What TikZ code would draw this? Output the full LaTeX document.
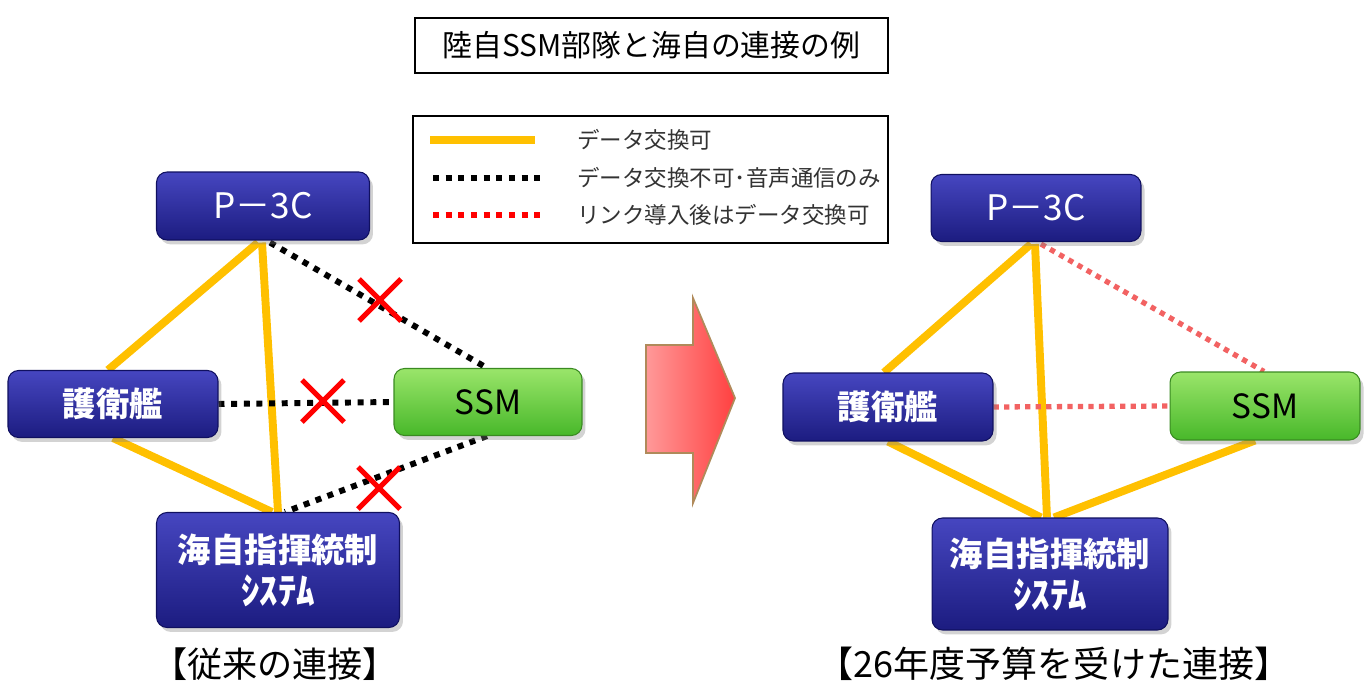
\documentclass[tikz,border=0pt]{standalone}
\usepackage{fontspec}
\newfontfamily\jp{Noto Sans CJK JP}
\usetikzlibrary{shadows,calc,backgrounds}
\definecolor{navytop}{HTML}{4646C0}
\definecolor{navybot}{HTML}{1C1C80}
\definecolor{navyedge}{HTML}{101060}
\definecolor{greentop}{HTML}{9AE56A}
\definecolor{greenbot}{HTML}{48B82A}
\definecolor{greenedge}{HTML}{3A8A22}
\definecolor{linkyellow}{HTML}{FFC000}
\definecolor{linkred}{HTML}{F26262}
\definecolor{legred}{HTML}{FF0000}
\definecolor{arrowedge}{HTML}{B08A5A}
\tikzset{
  navybox/.style={rectangle, rounded corners=6pt, top color=navytop, bottom color=navybot,
    draw=navyedge, line width=0.6pt, text=white, align=center,
    font=\jp\fontsize{19}{24}\selectfont\bfseries,
    drop shadow={opacity=0.35, shadow xshift=2pt, shadow yshift=-2.5pt}},
  greenbox/.style={rectangle, rounded corners=6pt, top color=greentop, bottom color=greenbot,
    draw=greenedge, line width=0.6pt, text=black, align=center,
    font=\jp\fontsize{19}{24}\selectfont,
    drop shadow={opacity=0.35, shadow xshift=2pt, shadow yshift=-2.5pt}},
  okline/.style={draw=linkyellow, line width=4.5pt},
  voiceline/.style={draw=black, line width=3.4pt, dash pattern=on 3.4pt off 3.8pt},
  linkline/.style={draw=linkred, line width=3pt, dash pattern=on 3pt off 3pt},
  legline/.style={draw=legred, line width=3.4pt, dash pattern=on 3.4pt off 3.8pt},
  xmark/.style={draw=red, line width=3pt},
  framebox/.style={draw=black, line width=1.3pt, fill=white},
  legtext/.style={anchor=west, inner sep=0pt, font=\jp\fontsize{12.8}{14}\selectfont, text=black!80},
  caption/.style={font=\jp\fontsize{20}{22}\selectfont}
}
\newcommand{\kata}[1]{{\fontsize{21}{24}\selectfont #1}}
\begin{document}
\begin{tikzpicture}[x=0.02cm,y=-0.02cm]
\useasboundingbox (0,0) rectangle (1367,693);

% title
\node[framebox, minimum width=9.46cm, minimum height=1.1cm, font=\jp\fontsize{17}{19}\selectfont] (title) at (651.5,45.5) {陸自SSM部隊と海自の連接の例};

% legend
\node[framebox, minimum width=9.5cm, minimum height=2.54cm] (legend) at (650.5,179.5) {};
\coordinate (ly1) at (430,140); \coordinate (ly2) at (535,140);
\coordinate (lb1) at (433,178); \coordinate (lb2) at (541,178);
\coordinate (lr1) at (433,215); \coordinate (lr2) at (541,215);
\draw[okline] (ly1) -- (ly2);
\draw[voiceline] (lb1) -- (lb2);
\draw[legline] (lr1) -- (lr2);
\node[legtext] (t1) at (577,140) {データ交換可};
\node[legtext] (t2) at (577,178) {データ交換不可･音声通信のみ};
\node[legtext] (t3) at (577,215) {リンク導入後はデータ交換可};

% left diagram nodes
\node[navybox, minimum width=4.26cm, minimum height=1.36cm, font=\jp\fontsize{20}{24}\selectfont] (lp3c) at (263,206) {P－3C};
\node[navybox, minimum width=4.2cm, minimum height=1.34cm] (lgoe) at (113,404) {護衛艦};
\node[greenbox, minimum width=3.76cm, minimum height=1.34cm] (lssm) at (488,402) {SSM};
\node[navybox, minimum width=4.86cm, minimum height=2.3cm] (lsys) at (278,570) {海自指揮統制\\\kata{ｼｽﾃﾑ}};
\node[caption] (lcap) at (275,664) {【従来の連接】};

\begin{scope}[on background layer]
\draw[okline] ($(lp3c.south)+(-5,2)$) -- ($(lgoe.north)+(-5,0)$);
\draw[okline] ($(lp3c.south)+(-1,2)$) -- ($(lsys.north)+(0,0)$);
\draw[okline] ($(lgoe.south)+(0,0)$) -- ($(lsys.north)+(-6,0)$);
\draw[voiceline] ($(lp3c.south)+(7,2)$) -- ($(lssm.north)+(-1,0)$);
\draw[voiceline] (lgoe.east) -- (lssm.west);
\draw[voiceline] ($(lssm.south)+(-1,0)$) -- ($(lsys.north)+(7,0)$);
\end{scope}

% red crosses
\coordinate (x1) at (380,300);
\coordinate (x2) at (323,401);
\coordinate (x3) at (379,488);
\foreach \c in {x1,x2,x3}{
  \draw[xmark] ($(\c)+(-21,-21)$) -- ($(\c)+(21,21)$);
  \draw[xmark] ($(\c)+(-21,21)$) -- ($(\c)+(21,-21)$);
}

% big arrow
\shade[left color=red!40!white, right color=red!75!white, draw=arrowedge, line width=1pt]
  (646,345) -- (693,345) -- (693,298) -- (735,398) -- (693,503) -- (693,453) -- (646,453) -- cycle;

% right diagram nodes
\node[navybox, minimum width=4.2cm, minimum height=1.34cm, font=\jp\fontsize{20}{24}\selectfont] (rp3c) at (1036,208) {P－3C};
\node[navybox, minimum width=4.2cm, minimum height=1.36cm] (rgoe) at (888,407) {護衛艦};
\node[greenbox, minimum width=3.8cm, minimum height=1.36cm] (rssm) at (1265,406) {SSM};
\node[navybox, minimum width=4.72cm, minimum height=2.24cm] (rsys) at (1050,574) {海自指揮統制\\\kata{ｼｽﾃﾑ}};
\node[caption, font=\jp\fontsize{20.5}{22}\selectfont] (rcap) at (1054,664) {【26年度予算を受けた連接】};

\begin{scope}[on background layer]
\draw[okline] ($(rp3c.south)+(-5,2)$) -- ($(rgoe.north)+(-4,0)$);
\draw[okline] ($(rp3c.south)+(-1,2)$) -- ($(rsys.north)+(-3,0)$);
\draw[okline] ($(rgoe.south)+(0,0)$) -- ($(rsys.north)+(-9,0)$);
\draw[okline] ($(rssm.south)+(-10,0)$) -- ($(rsys.north)+(4,0)$);
\draw[linkline] ($(rp3c.south)+(5,2)$) -- ($(rssm.north)+(-1,0)$);
\draw[linkline] (rgoe.east) -- (rssm.west);
\end{scope}
\end{tikzpicture}
\end{document}
